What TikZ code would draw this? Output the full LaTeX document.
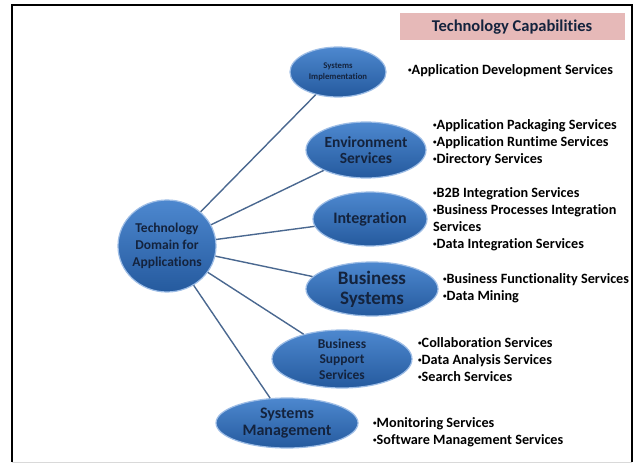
\documentclass[tikz,border=0pt]{standalone}
\usepackage{fontspec}
\setmainfont{Carlito}[Ligatures=NoCommon]
\usetikzlibrary{shapes.geometric, positioning}
\definecolor{bubtop}{HTML}{4D88CF}
\definecolor{bubbot}{HTML}{255A9E}
\definecolor{bubrim}{HTML}{9DBDE6}
\definecolor{bubtext}{HTML}{14233D}
\definecolor{linkcol}{HTML}{4A6890}
\definecolor{capfill}{HTML}{E6B9B8}
\newcommand{\bul}{\raisebox{0.2ex}{\scalebox{0.5}{•}}}
\tikzset{
    bubble/.style={ellipse, draw=bubrim, line width=1.2pt, top color=bubtop, bottom color=bubbot, inner sep=0pt, align=center, text=bubtext, font=\bfseries},
    itemlist/.style={anchor=north west, inner sep=0pt, align=left, font=\fontsize{14.2}{17}\selectfont\bfseries},
    link/.style={draw=linkcol, line width=1.4pt},
}
\begin{document}
\begin{tikzpicture}[x=1pt, y=-1pt]
    \useasboundingbox (0,0) rectangle (635,465);
    \fill[white] (0,0) rectangle (635,465);
    % frame
    \draw[line width=2pt] (12,462) -- (12,5) -- (632,5) -- (632,462);
    \draw[gray!30, line width=1pt] (12,462) -- (632,462);
    % title
    \node[fill=capfill, minimum width=225pt, minimum height=27pt, inner sep=0pt, font=\fontsize{16.5}{18}\selectfont\bfseries, text=bubtext] (cap) at (512,27) {Technology Capabilities};
    % bubbles
    \node[bubble, minimum width=96pt, minimum height=92pt, font=\fontsize{13.5}{17}\selectfont\bfseries] (dom) at (167,246) {Technology\\Domain for\\Applications};
    \node[bubble, minimum width=96pt, minimum height=50pt, font=\fontsize{8.7}{10.5}\selectfont\bfseries] (impl) at (338,72) {Systems\\Implementation};
    \node[bubble, minimum width=120pt, minimum height=56pt, font=\fontsize{15.5}{16.5}\selectfont\bfseries] (env) at (366,150) {Environment\\Services};
    \node[bubble, minimum width=114pt, minimum height=54pt, font=\fontsize{16}{17}\selectfont\bfseries] (integ) at (370,219) {Integration};
    \node[bubble, minimum width=132pt, minimum height=54pt, font=\fontsize{19}{20}\selectfont\bfseries] (bsys) at (372,289) {Business\\Systems};
    \node[bubble, minimum width=140pt, minimum height=58pt, font=\fontsize{13.5}{15.5}\selectfont\bfseries] (bss) at (342,359) {Business\\Support\\Services};
    \node[bubble, minimum width=142pt, minimum height=50pt, font=\fontsize{16}{16.5}\selectfont\bfseries] (mgmt) at (287,423) {Systems\\Management};
    % links
    \foreach \dst in {impl, env, integ, bsys, bss, mgmt}
        \draw[link] (dom) -- (\dst);
    % capability lists
    \node[itemlist] (implL) at (408,64) {\bul Application Development Services};
    \node[itemlist] (envL) at (433,119) {\bul Application Packaging Services\\\bul Application Runtime Services\\\bul Directory Services};
    \node[itemlist] (integL) at (433,187) {\bul B2B Integration Services\\\bul Business Processes Integration\\Services\\\bul Data Integration Services};
    \node[itemlist] (bsysL) at (443,273) {\bul Business Functionality Services\\\bul Data Mining};
    \node[itemlist] (bssL) at (418,337) {\bul Collaboration Services\\\bul Data Analysis Services\\\bul Search Services};
    \node[itemlist] (mgmtL) at (373,417) {\bul Monitoring Services\\\bul Software Management Services};
\end{tikzpicture}
\end{document}
